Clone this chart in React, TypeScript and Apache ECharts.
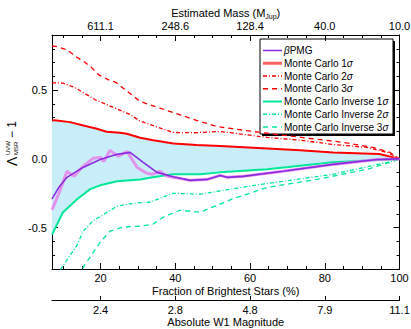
import React, { useEffect, useRef } from 'react';
import * as echarts from 'echarts';

const FONT = '"Liberation Sans", Arial, Helvetica, sans-serif';

// ---- data (x = fraction of brightest stars, %) ----
const pmgX = [7, 9, 11, 15.3, 19.9, 24.4, 27.9, 31.4, 35.1, 39.4, 44, 48.5, 52, 53.9, 58.1, 68.8, 82.2, 94, 100];
const pmgY = [-0.29, -0.2, -0.134, -0.062, -0.004, 0.033, 0.047, -0.025, -0.098, -0.13, -0.156, -0.149, -0.12, -0.134, -0.127, -0.09, -0.04, -0.004, 0];

const rawX = [7, 9, 11, 12.9, 15.3, 18, 19.9, 20.9, 22.5, 24.7, 27.1, 29.8, 32.4, 33.8, 35.9, 37.8, 39.4, 44, 48.5, 52, 53.9, 58.1, 68.8, 82.2, 94, 100];
const rawY = [-0.37, -0.24, -0.09, -0.127, -0.054, 0.004, 0.011, -0.018, 0.062, 0.018, 0.054, -0.062, -0.105, -0.112, -0.09, -0.127, -0.134, -0.156, -0.149, -0.12, -0.134, -0.127, -0.09, -0.04, -0.004, 0];

const mc1X = [7, 8.3, 11.8, 15.4, 19, 21.6, 25.2, 27, 30.6, 34.1, 39.5, 45.7, 52, 64.6, 73.4, 82.2, 94.6, 100];
const mc1Y = [0.28, 0.279, 0.267, 0.243, 0.219, 0.197, 0.19, 0.183, 0.154, 0.136, 0.112, 0.1, 0.093, 0.075, 0.062, 0.047, 0.036, 0];

const mc2X = [7, 10, 13, 18.5, 27.9, 30.6, 39.4, 45, 52, 64.6, 73.4, 82.2, 91.3, 96.7, 100];
const mc2Y = [0.554, 0.55, 0.52, 0.431, 0.322, 0.274, 0.192, 0.19, 0.199, 0.156, 0.136, 0.105, 0.083, 0.047, 0];

const mc3X = [7, 8.3, 11, 13.4, 15.5, 17.6, 19.4, 22, 24.2, 30.6, 39.4, 46.6, 51.2, 62.7, 84.9, 92.9, 97.5, 100];
const mc3Y = [0.82, 0.815, 0.793, 0.743, 0.707, 0.663, 0.612, 0.576, 0.554, 0.417, 0.337, 0.272, 0.235, 0.192, 0.12, 0.083, 0.047, 0];

const inv1X = [7, 9.9, 13.7, 17.2, 19.9, 24.4, 30.6, 34, 39.4, 46.6, 52, 64.6, 82.2, 100];
const inv1Y = [-0.55, -0.39, -0.293, -0.22, -0.192, -0.163, -0.149, -0.134, -0.112, -0.112, -0.098, -0.076, -0.025, 0];

const inv2X = [7, 9.6, 13.6, 15.4, 18, 24.4, 28.7, 33.2, 39.4, 46.6, 60, 82.2, 96.7, 100];
const inv2Y = [-0.92, -0.79, -0.632, -0.523, -0.45, -0.344, -0.322, -0.315, -0.25, -0.257, -0.197, -0.112, -0.025, 0];

const inv3X = [7, 15.3, 19.9, 22.5, 26, 30.6, 34, 36.7, 41.3, 46.6, 55.4, 64.6, 77.9, 91.3, 98.4, 100];
const inv3Y = [-1.12, -0.79, -0.605, -0.525, -0.496, -0.489, -0.475, -0.424, -0.373, -0.388, -0.29, -0.207, -0.149, -0.076, -0.017, 0];

// ---- tick labels ----
const fracTicks = [20, 40, 60, 80, 100];
const fracLabels = ['20', '40', '60', '80', '100'];
const massLabels = ['611.1', '248.6', '128.4', '40.0', '10.0'];
const magLabels = ['2.4', '2.8', '4.8', '7.9', '11.1'];
const xMinor = [10, 15, 25, 30, 35, 45, 50, 55, 65, 70, 75, 85, 90, 95];
const yTicks = [-0.5, 0, 0.5];
const yLabels = ['-0.5', '0.0', '0.5'];
const yMinor = [-0.7, -0.6, -0.4, -0.3, -0.2, -0.1, 0.1, 0.2, 0.3, 0.4, 0.6, 0.7, 0.8];

const RED = '#ff0000';
const GREEN = '#00e896';
const PURPLE = '#8a2be2';
const PINK = 'rgba(232,130,232,0.85)';
const FILL = '#c8eefa';

const pair = (xs: number[], ys: number[]) => xs.map((x, i) => [x, ys[i]]);

export default function App() {
  const ref = useRef<HTMLDivElement>(null);
  useEffect(() => {
    if (!ref.current) return;
    const chart = echarts.init(ref.current, undefined, { renderer: 'svg' });
    const gridBox = { left: 52, right: 11.5, top: 35, bottom: 60, containLabel: false, outerBoundsMode: 'none' };
    const txt = { color: '#000', fontFamily: FONT, fontSize: 11 };
    const xBase = { type: 'value', min: 7, max: 100, splitLine: { show: false } };
    const yBase = { type: 'value', min: -0.8, max: 0.9, splitLine: { show: false } };
    const lineBlack = { show: true, onZero: false, lineStyle: { color: '#000', width: 1 } };
    const noLine = { show: false, onZero: false };
    const noLabel = { show: false };
    const tick = (vals: number[], len: number) => ({ show: true, inside: true, length: len, customValues: vals, lineStyle: { color: '#000', width: 1 } });

    const lineSeries = (name: string, xs: number[], ys: number[], color: string, width: number, type: any, z: number) => ({
      name,
      type: 'line',
      data: pair(xs, ys),
      showSymbol: false,
      symbol: 'none',
      clip: true,
      z,
      lineStyle: { color, width, type },
      emphasis: { disabled: true },
    });

    const legendItems = [
      { t: '{i|β}PMG', c: PURPLE, w: 1.5, d: null },
      { t: 'Monte Carlo 1{i|σ}', c: '#ff6060', w: 3, d: null },
      { t: 'Monte Carlo 2{i|σ}', c: RED, w: 1.3, d: [4, 2, 1, 2] },
      { t: 'Monte Carlo 3{i|σ}', c: RED, w: 1.3, d: [5, 4] },
      { t: 'Monte Carlo Inverse 1{i|σ}', c: GREEN, w: 2, d: null },
      { t: 'Monte Carlo Inverse 2{i|σ}', c: GREEN, w: 1.3, d: [4, 2, 1, 2] },
      { t: 'Monte Carlo Inverse 3{i|σ}', c: GREEN, w: 1.3, d: [5, 4] },
    ];
    const legendChildren: any[] = [
      { type: 'rect', shape: { x: 262, y: 41, width: 133, height: 95 }, style: { fill: '#000' } },
      { type: 'rect', shape: { x: 260, y: 39, width: 133, height: 95 }, style: { fill: '#fff', stroke: '#000', lineWidth: 1 } },
    ];
    legendItems.forEach((it, i) => {
      const y = 50.5 + i * 12.75;
      legendChildren.push({
        type: 'line',
        shape: { x1: 263, y1: y, x2: 282, y2: y },
        style: { stroke: it.c, lineWidth: it.w, lineDash: it.d || undefined },
      });
      legendChildren.push({
        type: 'text',
        x: 284,
        y,
        style: {
          text: it.t,
          fill: '#000',
          fontFamily: FONT,
          fontSize: 10,
          align: 'left',
          verticalAlign: 'middle',
          rich: { i: { fontStyle: 'italic', fontFamily: FONT, fontSize: 10, fill: '#000' } },
        },
      });
    });

    const option: any = {
      animation: false,
      backgroundColor: '#fff',
      grid: [gridBox, gridBox, gridBox],
      xAxis: [
        {
          ...xBase, gridIndex: 0, position: 'bottom',
          axisLine: lineBlack,
          axisTick: tick(fracTicks, 6),
          axisLabel: { ...txt, customValues: fracTicks, margin: 3, lineHeight: 12, formatter: (v: number) => fracLabels[fracTicks.indexOf(v)] },
          name: 'Fraction of Brightest Stars (%)', nameLocation: 'middle', nameGap: 16, nameMoveOverlap: false,
          nameTextStyle: { ...txt, lineHeight: 12 },
        },
        {
          ...xBase, gridIndex: 0, position: 'top',
          axisLine: lineBlack,
          axisTick: tick(fracTicks, 6),
          axisLabel: { ...txt, customValues: fracTicks, margin: 4, formatter: (v: number) => massLabels[fracTicks.indexOf(v)] },
          name: '{a|Estimated Mass (M}{s|Jup}{a|)}', nameLocation: 'middle', nameGap: 15, nameMoveOverlap: false,
          nameTextStyle: {
            ...txt,
            rich: {
              a: { ...txt, lineHeight: 13, verticalAlign: 'top' },
              s: { color: '#000', fontFamily: FONT, fontSize: 7, lineHeight: 5, verticalAlign: 'bottom' },
            },
          },
        },
        {
          ...xBase, gridIndex: 1, position: 'bottom',
          axisLine: noLine, axisLabel: noLabel,
          axisTick: tick(xMinor, 3),
        },
        {
          ...xBase, gridIndex: 1, position: 'top',
          axisLine: noLine, axisLabel: noLabel,
          axisTick: tick(xMinor, 3),
        },
        {
          ...xBase, gridIndex: 2, position: 'bottom', offset: 31,
          axisLine: lineBlack,
          axisTick: tick(fracTicks, 4),
          axisLabel: { ...txt, customValues: fracTicks, margin: 4, lineHeight: 12, formatter: (v: number) => magLabels[fracTicks.indexOf(v)] },
          name: 'Absolute W1 Magnitude', nameLocation: 'middle', nameGap: 16, nameMoveOverlap: false,
          nameTextStyle: { ...txt, lineHeight: 12 },
        },
      ],
      yAxis: [
        {
          ...yBase, gridIndex: 0, position: 'left',
          axisLine: lineBlack,
          axisTick: tick(yTicks, 6),
          axisLabel: { ...txt, customValues: yTicks, margin: 5, formatter: (v: number) => yLabels[yTicks.indexOf(v)] },
        },
        {
          ...yBase, gridIndex: 0, position: 'right',
          axisLine: lineBlack, axisLabel: noLabel,
          axisTick: tick(yTicks, 6),
        },
        {
          ...yBase, gridIndex: 1, position: 'left',
          axisLine: noLine, axisLabel: noLabel,
          axisTick: tick(yMinor, 3),
        },
        {
          ...yBase, gridIndex: 1, position: 'right',
          axisLine: noLine, axisLabel: noLabel,
          axisTick: tick(yMinor, 3),
        },
        { ...yBase, gridIndex: 2, show: false, axisLine: noLine },
      ],
      series: [
        {
          type: 'custom',
          xAxisIndex: 0,
          yAxisIndex: 0,
          z: 1,
          data: [[50, 0]],
          renderItem: (_p: any, api: any) => {
            const pts: number[][] = [];
            mc1X.forEach((x, i) => pts.push(api.coord([x, mc1Y[i]])));
            for (let i = inv1X.length - 1; i >= 0; i--) pts.push(api.coord([inv1X[i], inv1Y[i]]));
            return { type: 'polygon', shape: { points: pts }, style: { fill: FILL, stroke: 'none' } };
          },
        },
        lineSeries('Monte Carlo 3σ', mc3X, mc3Y, RED, 1.3, [5, 4], 3),
        lineSeries('Monte Carlo 2σ', mc2X, mc2Y, RED, 1.3, [4, 2, 1, 2], 3),
        lineSeries('Monte Carlo Inverse 3σ', inv3X, inv3Y, GREEN, 1.3, [5, 4], 3),
        lineSeries('Monte Carlo Inverse 2σ', inv2X, inv2Y, GREEN, 1.3, [4, 2, 1, 2], 3),
        lineSeries('Monte Carlo 1σ', mc1X, mc1Y, RED, 2, 'solid', 4),
        lineSeries('Monte Carlo Inverse 1σ', inv1X, inv1Y, GREEN, 2, 'solid', 4),
        lineSeries('βPMG raw', rawX, rawY, PINK, 3, 'solid', 5),
        lineSeries('βPMG', pmgX, pmgY, PURPLE, 1.6, 'solid', 6),
      ],
      graphic: [
        { type: 'group', z: 100, children: legendChildren },
        {
          type: 'group',
          x: 12,
          y: 146,
          rotation: Math.PI / 2,
          children: [
            { type: 'text', x: -20, y: 0, style: { text: 'Λ', fill: '#000', fontFamily: FONT, fontSize: 14, align: 'left', verticalAlign: 'middle' } },
            { type: 'text', x: -9, y: -4.5, style: { text: 'UVW', fill: '#000', fontFamily: FONT, fontSize: 6, align: 'left', verticalAlign: 'middle' } },
            { type: 'text', x: -9, y: 3.5, style: { text: 'MSR', fill: '#000', fontFamily: FONT, fontSize: 6, align: 'left', verticalAlign: 'middle' } },
            { type: 'text', x: 8, y: 0, style: { text: '− 1', fill: '#000', fontFamily: FONT, fontSize: 12, align: 'left', verticalAlign: 'middle' } },
          ],
        },
      ],
    };
    chart.setOption(option);
    return () => chart.dispose();
  }, []);
  return <div ref={ref} style={{ position: 'fixed', left: 0, top: 0, width: 411, height: 329, background: '#fff' }} />;
}
